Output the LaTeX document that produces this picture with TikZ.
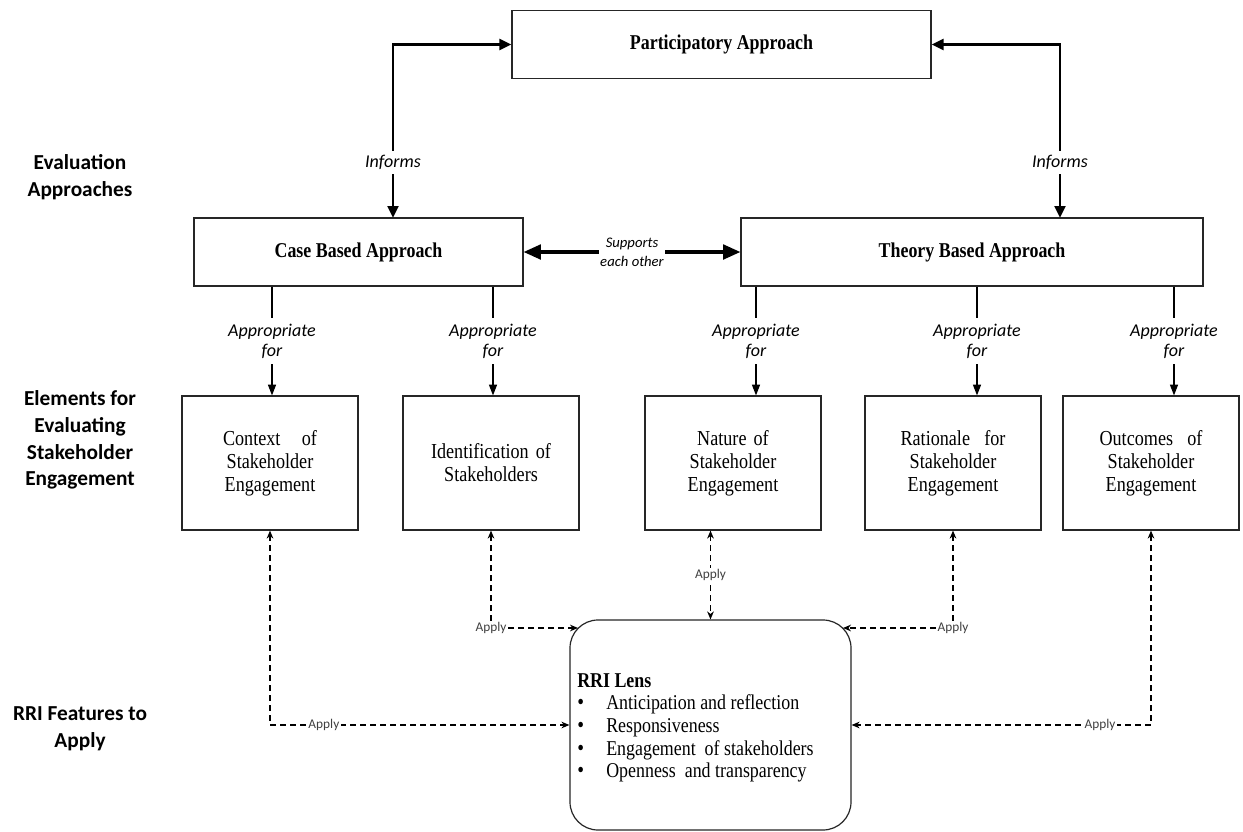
\documentclass[tikz,border=0pt]{standalone}
\usepackage{fontspec}
\setmainfont{Liberation Serif}[FakeStretch=0.85]
\newfontfamily\calfont{Carlito}
\usetikzlibrary{arrows.meta}

\begin{document}
\begin{tikzpicture}[x=0.75pt,y=-0.75pt,
    box/.style={draw=black!85,line width=0.9pt,fill=white,align=center,inner sep=0pt},
    approach/.style={box,font=\fontsize{15.8}{18}\selectfont\bfseries,minimum height=51pt},
    element/.style={box,font=\fontsize{16}{17.25}\selectfont,minimum width=132pt,minimum height=100.5pt,text width=125pt},
    sidelabel/.style={align=center,font=\calfont\fontsize{16}{20}\selectfont\bfseries},
    informs/.style={line width=2.2pt,{Triangle[length=9pt,width=8pt]}-{Triangle[length=9pt,width=8pt]}},
    supports/.style={line width=2.4pt,{Triangle[length=13pt,width=11pt]}-{Triangle[length=13pt,width=11pt]}},
    apto/.style={line width=0.8pt,-{Triangle[length=8pt,width=6pt]}},
    applyline/.style={line width=1pt,dash pattern=on 4.5pt off 3pt,{Stealth[length=6pt,width=5pt]}-{Stealth[length=6pt,width=5pt]}},
    itlabel/.style={fill=white,align=center,inner xsep=2pt,inner ysep=3pt,font=\calfont\itshape\fontsize{13.5}{15}\selectfont},
    applylabel/.style={fill=white,inner sep=1pt,text=black!75,font=\calfont\fontsize{10}{11}\selectfont}
  ]
  \useasboundingbox (0,0) rectangle (1243,832);
  \newcommand{\rribul}{\makebox[21.75pt][l]{\smash{\fontsize{17}{17}\selectfont\textbullet}}}

  % evaluation approaches
  \node[approach,minimum width=314.25pt] (part) at (721.5,44.5) {Participatory Approach};
  \node[approach,minimum width=246.75pt] (case) at (358.5,252) {Case Based Approach};
  \node[approach,minimum width=346.5pt] (theory) at (972,252) {Theory Based Approach};

  % elements for evaluating stakeholder engagement
  \node[element] (ctx) at (270,463) {Context\ \ \ of\\Stakeholder\\Engagement};
  \node[element] (ident) at (491,463) {Identification of\\Stakeholders};
  \node[element] (nat) at (733,463) {Nature of\\Stakeholder\\Engagement};
  \node[element] (rat) at (953,463) {Rationale\ \ for\\Stakeholder\\Engagement};
  \node[element] (outc) at (1151,463) {Outcomes\ \ of\\Stakeholder\\Engagement};

  % RRI lens
  \node[box,rounded corners=21pt,minimum width=210.75pt,minimum height=157.5pt] (rri) at (710.5,725) {};
  \node[anchor=north west,align=left,inner sep=0pt,font=\fontsize{15.8}{17}\selectfont] (lens) at (577,673)
    {\textbf{RRI Lens}\\
     \rribul Anticipation and reflection\\
     \rribul Responsiveness\\
     \rribul Engagement\ \ of stakeholders\\
     \rribul Openness\ \ and transparency};

  % row labels on the left
  \node[sidelabel] (evl) at (80,177) {Evaluation\\Approaches};
  \node[sidelabel] (elm) at (80,440) {Elements for\\Evaluating\\Stakeholder\\Engagement};
  \node[sidelabel] (rrif) at (80,729) {RRI Features to\\Apply};

  % informs arrows
  \coordinate (caseIn) at (393,218);
  \coordinate (thyIn) at (1060,218);
  \draw[informs] (caseIn) |- (part.west) node[itlabel,pos=0.16] {Informs};
  \draw[informs] (thyIn) |- (part.east) node[itlabel,pos=0.16] {Informs};
  \draw[supports] (case.east) -- (theory.west)
    node[midway,fill=white,align=center,inner sep=1pt,font=\calfont\itshape\fontsize{11}{14}\selectfont] {Supports\\each other};

  % appropriate for
  \foreach \src/\dst/\x in {case/ctx/272, case/ident/493, theory/nat/756, theory/rat/977, theory/outc/1174}{
    \coordinate (tmp) at (\x,0);
    \draw[apto] (\src.south -| tmp) -- (\dst.north -| tmp)
      node[itlabel,inner ysep=4.5pt,midway] {Appropriate\\for};
  }

  % apply arrows
  \coordinate (nwIn) at (578,628);
  \coordinate (neIn) at (843,628);
  \draw[applyline] (ctx.south) |- (rri.west) node[applylabel,pos=0.59] {Apply};
  \draw[applyline] (ident.south) |- (nwIn) node[applylabel,pos=0.5] {Apply};
  \draw[applyline] (nat.south -| rri.north) -- (rri.north) node[applylabel,midway] {Apply};
  \draw[applyline] (rat.south) |- (neIn) node[applylabel,pos=0.5] {Apply};
  \draw[applyline] (outc.south) |- (rri.east) node[applylabel,pos=0.585] {Apply};
\end{tikzpicture}
\end{document}
